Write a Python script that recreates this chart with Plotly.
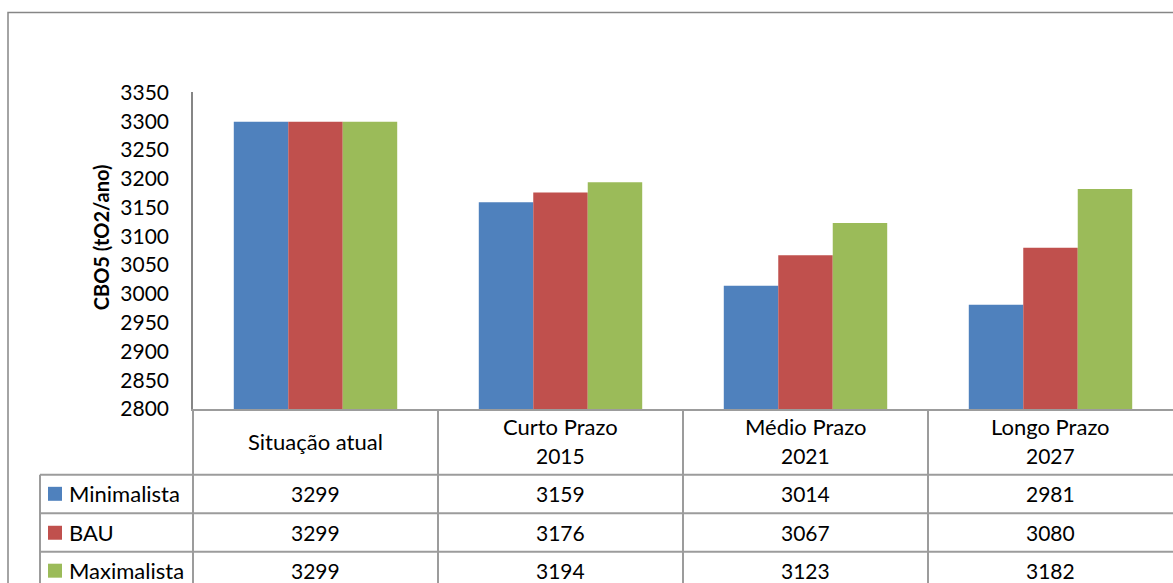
import plotly.graph_objects as go

# ---- data ----
categories = ["Situação atual", "Curto Prazo", "Médio Prazo", "Longo Prazo"]
years = ["", "2015", "2021", "2027"]
series_names = ["Minimalista", "BAU", "Maximalista"]
minimalista = [3299, 3159, 3014, 2981]
bau = [3299, 3176, 3067, 3080]
maximalista = [3299, 3194, 3123, 3182]
y_ticks = [2800, 2850, 2900, 2950, 3000, 3050, 3100, 3150, 3200, 3250, 3300, 3350]
y_title = "CBO5 (tO2/ano)"

colors = ["#4F81BD", "#C0504D", "#9BBB59"]
values = [minimalista, bau, maximalista]

W, H = 1173, 610
FONT = "Lato"
FS_NUM = 21
FS_TXT = 22
GRID = "#9C9C9C"

# vertical calibration of the capture (measured): out = 0.9605 * (spec + VOFF)
VS, VOFF = 0.9605, 14.0


def px(x):
    return x / W


def py(t):
    spec = t / VS - VOFF
    return 1 - spec / H


x_idx = list(range(len(categories)))

fig = go.Figure()
for name, vals, c in zip(series_names, values, colors):
    fig.add_trace(go.Bar(
        x=x_idx, y=vals, name=name,
        marker=dict(color=c, line=dict(color=c, width=0)),
        showlegend=False,
    ))

plot_left, plot_right = 193, 1173
plot_top, plot_bottom = 92, 409

fig.update_layout(
    width=W, height=H,
    margin=dict(l=0, r=0, t=0, b=0),
    paper_bgcolor="white", plot_bgcolor="white",
    barmode="group", bargap=0.333, bargroupgap=0,
    font=dict(family=FONT, size=FS_TXT, color="black"),
    xaxis=dict(
        domain=[px(plot_left), px(plot_right)],
        range=[-0.5, len(categories) - 0.5],
        showticklabels=False, showgrid=False, zeroline=False,
        showline=True, linecolor=GRID, linewidth=2, ticks="",
    ),
    yaxis=dict(
        domain=[py(plot_bottom), py(plot_top)],
        range=[y_ticks[0], y_ticks[-1]],
        tickmode="array", tickvals=y_ticks, ticktext=[str(t) for t in y_ticks],
        showgrid=False, zeroline=False,
        showline=True, linecolor="#868686", linewidth=1.5, ticks="",
        ticklabelstandoff=18,
        tickfont=dict(family=FONT, size=FS_NUM, color="black"),
    ),
)

shapes = []
# outer chart border (extends beyond the visible window)
shapes.append(dict(type="rect", xref="paper", yref="paper",
                   x0=px(8), x1=px(1300), y0=py(12), y1=-0.2,
                   line=dict(color="#868686", width=1.5), fillcolor="rgba(0,0,0,0)"))

# data table grid
row_lines = [475, 513.5, 552, 591]
table_left = 40
for yl in row_lines:
    shapes.append(dict(type="line", xref="paper", yref="paper",
                       x0=px(table_left), x1=px(1200), y0=py(yl), y1=py(yl),
                       line=dict(color=GRID, width=2)))
shapes.append(dict(type="line", xref="paper", yref="paper",
                   x0=px(table_left), x1=px(table_left), y0=py(475), y1=-0.1,
                   line=dict(color=GRID, width=2)))
cat_w = (plot_right - plot_left) / len(categories)
for i in range(len(categories)):
    xl = plot_left + i * cat_w
    shapes.append(dict(type="line", xref="paper", yref="paper",
                       x0=px(xl), x1=px(xl), y0=py(plot_bottom), y1=-0.1,
                       line=dict(color=GRID, width=2)))

# legend keys in the table
row_centers = [494, 533, 571]
for c, yc in zip(colors, row_centers):
    shapes.append(dict(type="rect", xref="paper", yref="paper",
                       x0=px(48), x1=px(62), y0=py(yc - 7), y1=py(yc + 7),
                       line=dict(width=0), fillcolor=c))

annotations = []
annotations.append(dict(text="<b>" + y_title + "</b>", xref="paper", yref="paper",
                        x=px(101), y=py(237), textangle=-90, showarrow=False,
                        font=dict(family=FONT, size=20, color="black"),
                        xanchor="center", yanchor="middle"))

for i, (cat, yr) in enumerate(zip(categories, years)):
    if yr:
        annotations.append(dict(text=cat, xref="x", yref="paper", x=i, y=py(427),
                                showarrow=False, xanchor="center", yanchor="middle"))
        annotations.append(dict(text=yr, xref="x", yref="paper", x=i, y=py(456),
                                showarrow=False, xanchor="center", yanchor="middle",
                                font=dict(size=FS_NUM)))
    else:
        annotations.append(dict(text=cat, xref="x", yref="paper", x=i, y=py(442),
                                showarrow=False, xanchor="center", yanchor="middle"))

for name, vals, yc in zip(series_names, values, row_centers):
    annotations.append(dict(text=name, xref="paper", yref="paper", x=px(67), y=py(yc),
                            showarrow=False, xanchor="left", yanchor="middle"))
    for i, v in enumerate(vals):
        annotations.append(dict(text=str(v), xref="x", yref="paper", x=i, y=py(yc),
                                showarrow=False, xanchor="center", yanchor="middle",
                                font=dict(size=FS_NUM)))

fig.update_layout(shapes=shapes, annotations=annotations)
fig.write_html(
    "out.html",
    config={"displayModeBar": False},
    post_script=(
        "document.documentElement.style.overflow='hidden';"
        "document.body.style.margin='0';"
        "document.body.style.overflow='hidden';"
    ),
)
